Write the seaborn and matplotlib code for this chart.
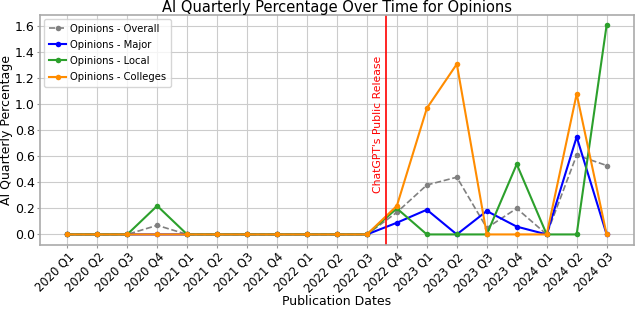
import numpy as np
import pandas as pd
import seaborn as sns
import matplotlib
matplotlib.use("Agg")
import matplotlib.pyplot as plt

quarters = ["2020 Q1", "2020 Q2", "2020 Q3", "2020 Q4",
            "2021 Q1", "2021 Q2", "2021 Q3", "2021 Q4",
            "2022 Q1", "2022 Q2", "2022 Q3", "2022 Q4",
            "2023 Q1", "2023 Q2", "2023 Q3", "2023 Q4",
            "2024 Q1", "2024 Q2", "2024 Q3"]

overall = [0, 0, 0, 0.07, 0, 0, 0, 0, 0, 0, 0,
           0.17, 0.38, 0.44, 0.05, 0.20, 0, 0.61, 0.53]
major = [0, 0, 0, 0, 0, 0, 0, 0, 0, 0, 0,
         0.09, 0.19, 0, 0.18, 0.06, 0, 0.75, 0]
local = [0, 0, 0, 0.22, 0, 0, 0, 0, 0, 0, 0,
         0.20, 0, 0, 0, 0.54, 0, 0, 1.61]
colleges = [0, 0, 0, 0, 0, 0, 0, 0, 0, 0, 0,
            0.22, 0.97, 1.31, 0, 0, 0, 1.08, 0]

release_pos = 10.63  # ChatGPT release (30 Nov 2022) between Q3 and Q4 ticks

x = np.arange(len(quarters))

fig, ax = plt.subplots(figsize=(6.4, 3.1), dpi=100)

sns.lineplot(x=x, y=overall, ax=ax, color="gray", linestyle="--", marker="o",
             markersize=4, markeredgewidth=0, linewidth=1.2, label="Opinions - Overall")
sns.lineplot(x=x, y=major, ax=ax, color="blue", marker="o",
             markersize=4, markeredgewidth=0, linewidth=1.5, label="Opinions - Major")
sns.lineplot(x=x, y=local, ax=ax, color="tab:green", marker="o",
             markersize=4, markeredgewidth=0, linewidth=1.5, label="Opinions - Local")
sns.lineplot(x=x, y=colleges, ax=ax, color="darkorange", marker="o",
             markersize=4, markeredgewidth=0, linewidth=1.5, label="Opinions - Colleges")

# release marker
ax.axvline(release_pos, color="red", linewidth=1.2)
ax.text(release_pos - 0.1, 0.85, "ChatGPT's Public Release", color="red",
        rotation=90, ha="right", va="center", fontsize=7.8)

ax.set_xticks(x)
ax.set_xticklabels(quarters, rotation=45, ha="right", rotation_mode="anchor")
ax.set_yticks(np.arange(0, 1.7, 0.2))
ax.grid(True, color="#cccccc", linewidth=0.8)
ax.set_axisbelow(True)
for s in ax.spines.values():
    s.set_color("#aaaaaa")
    s.set_linewidth(1.2)

ax.set_title("AI Quarterly Percentage Over Time for Opinions", fontsize=10.5, pad=2)
ax.set_xlabel("Publication Dates", fontsize=9, labelpad=0)
ax.set_ylabel("AI Quarterly Percentage", fontsize=9, labelpad=1)
ax.tick_params(color="#999999", length=2.5, pad=1.5)
ax.tick_params(axis="x", labelsize=8.3)
ax.tick_params(axis="y", labelsize=9)
ax.legend(loc="upper left", fontsize=7.2, handlelength=1.7, handletextpad=0.4,
          borderpad=0.5, labelspacing=0.62, borderaxespad=0.4)

plt.subplots_adjust(left=0.063, right=0.99, top=0.953, bottom=0.21)
plt.savefig("out.png")
